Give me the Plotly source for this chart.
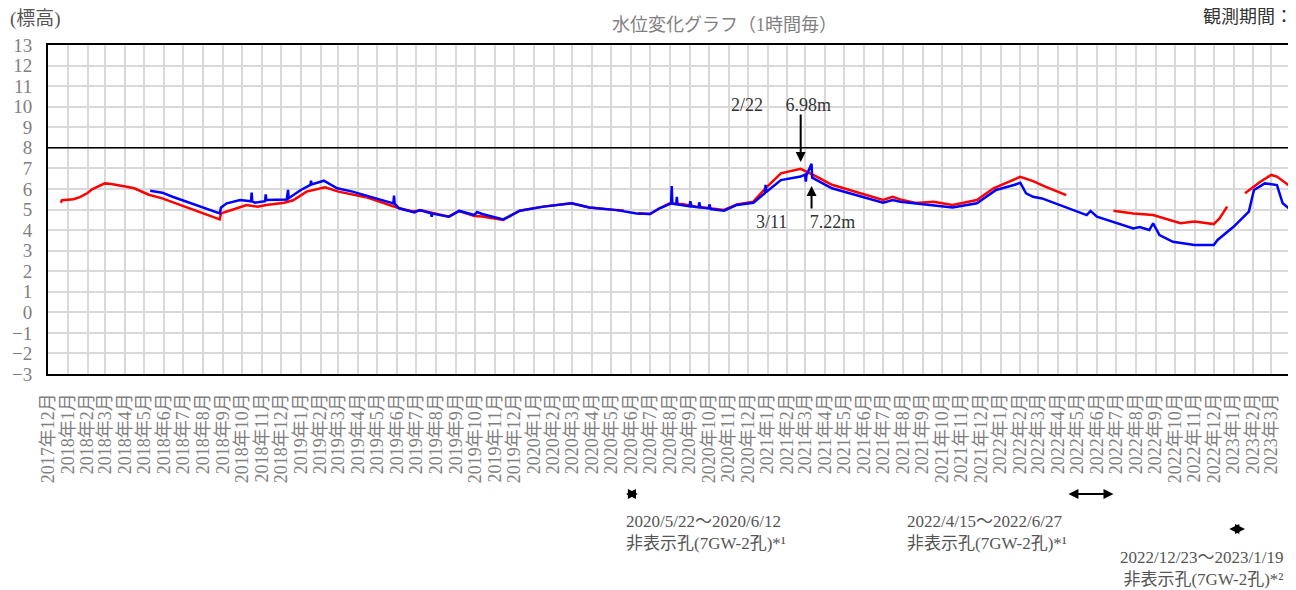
import pandas as pd
import plotly.graph_objects as go

# 観測孔ごとの水位（標高, m）
red_dates = [
    "2017-12-21", "2017-12-23", "2018-01-10", "2018-01-20", "2018-02-01", "2018-02-08",
    "2018-02-28", "2018-03-10", "2018-04-01", "2018-04-15", "2018-05-08", "2018-05-29",
    "2018-08-27", "2018-08-29", "2018-09-17", "2018-10-08", "2018-10-25", "2018-11-08",
    "2018-12-06", "2018-12-20", "2019-01-10", "2019-02-08", "2019-03-01", "2019-04-13",
    "2019-06-04", "2019-06-24", "2019-07-10", "2019-08-21", "2019-09-06", "2019-09-30",
    "2019-10-12", "2019-11-14", "2019-12-10", "2020-01-16", "2020-02-29", "2020-03-28",
    "2020-05-10", "2020-05-21", "2020-05-22",
    "2020-06-12", "2020-07-01", "2020-07-16", "2020-08-01", "2020-08-22", "2020-09-12",
    "2020-10-25", "2020-11-14", "2020-12-10", "2020-12-28", "2021-01-22", "2021-02-22",
    "2021-03-19", "2021-04-12", "2021-07-01", "2021-07-16", "2021-07-28", "2021-08-21",
    "2021-09-18", "2021-10-18", "2021-11-25", "2021-12-21", "2022-02-01", "2022-02-21",
    "2022-03-13", "2022-04-14", "2022-04-15",
    "2022-06-27", "2022-07-28", "2022-08-28", "2022-10-10", "2022-11-01", "2022-12-01",
    "2022-12-10", "2022-12-22", "2022-12-23",
    "2023-01-19", "2023-02-12", "2023-03-01", "2023-03-10", "2023-04-01",
]
red_vals = [
    5.33, 5.45, 5.50, 5.60, 5.80, 5.98,
    6.27, 6.24, 6.12, 6.03, 5.72, 5.54,
    4.52, 4.81, 5.00, 5.22, 5.14, 5.22,
    5.33, 5.45, 5.87, 6.08, 5.87, 5.60,
    5.06, 4.92, 4.95, 4.65, 4.93, 4.68,
    4.66, 4.49, 4.94, 5.14, 5.30, 5.10,
    4.97, 4.95, None,
    4.82, 4.78, 5.06, 5.30, 5.25, 5.14,
    4.98, 5.25, 5.38, 6.00, 6.76, 6.98,
    6.60, 6.20, 5.46, 5.62, 5.49, 5.32,
    5.38, 5.22, 5.46, 6.03, 6.59, 6.38,
    6.10, 5.70, None,
    4.94, 4.81, 4.73, 4.33, 4.41, 4.29,
    4.57, 5.14, None,
    5.79, 6.35, 6.68, 6.60, 6.10,
]

blue_dates = [
    "2018-05-10", "2018-05-29", "2018-06-14", "2018-08-27", "2018-08-29", "2018-09-07",
    "2018-09-28", "2018-10-15", "2018-10-16", "2018-10-17", "2018-10-21", "2018-11-06",
    "2018-11-07", "2018-11-08", "2018-12-10", "2018-12-12", "2018-12-13", "2019-01-01",
    "2019-01-16", "2019-01-17", "2019-01-18", "2019-02-06", "2019-02-27", "2019-03-23",
    "2019-05-26", "2019-05-27", "2019-05-28", "2019-06-04", "2019-06-28", "2019-07-06",
    "2019-07-24", "2019-07-25", "2019-07-26", "2019-08-21", "2019-09-06", "2019-09-30",
    "2019-10-04", "2019-10-12", "2019-11-14", "2019-12-10", "2020-01-16", "2020-02-29",
    "2020-03-28", "2020-05-10", "2020-06-10", "2020-07-01", "2020-07-16", "2020-08-01",
    "2020-08-03", "2020-08-04", "2020-08-05", "2020-08-11", "2020-08-12", "2020-08-13",
    "2020-08-22", "2020-09-01", "2020-09-02", "2020-09-04", "2020-09-15", "2020-09-16",
    "2020-09-18", "2020-10-01", "2020-10-02", "2020-10-04", "2020-10-25", "2020-11-14",
    "2020-12-10", "2020-12-28", "2020-12-29", "2020-12-30", "2021-01-22", "2021-02-22",
    "2021-03-01", "2021-03-02", "2021-03-03", "2021-03-11", "2021-03-12", "2021-03-19",
    "2021-04-12", "2021-07-01", "2021-07-16", "2021-07-28", "2021-09-18", "2021-10-18",
    "2021-11-25", "2021-12-25", "2022-01-22", "2022-02-01", "2022-02-10", "2022-02-21",
    "2022-03-07", "2022-05-16", "2022-05-22", "2022-06-01", "2022-07-28", "2022-08-07",
    "2022-08-22", "2022-08-28", "2022-09-07", "2022-09-28", "2022-11-01", "2022-12-01",
    "2022-12-07", "2023-01-01", "2023-01-25", "2023-02-02", "2023-02-19", "2023-03-10",
    "2023-03-19", "2023-04-01",
]
blue_vals = [
    5.91, 5.82, 5.62, 4.81, 5.10, 5.30,
    5.46, 5.40, 5.82, 5.40, 5.33, 5.40,
    5.74, 5.46, 5.49, 5.95, 5.55, 5.95,
    6.20, 6.40, 6.22, 6.40, 6.03, 5.87,
    5.30, 5.67, 5.28, 5.06, 4.86, 4.97,
    4.82, 4.65, 4.80, 4.65, 4.93, 4.73,
    4.88, 4.78, 4.52, 4.94, 5.14, 5.30,
    5.10, 4.97, 4.81, 4.78, 5.06, 5.30,
    5.30, 6.14, 5.28, 5.25, 5.62, 5.25,
    5.20, 5.15, 5.40, 5.15, 5.10, 5.35,
    5.10, 5.05, 5.25, 5.02, 4.94, 5.22,
    5.33, 5.80, 6.20, 5.85, 6.43, 6.60,
    6.70, 6.35, 6.65, 7.22, 6.55, 6.43,
    6.03, 5.33, 5.46, 5.38, 5.22, 5.10,
    5.30, 5.95, 6.19, 6.30, 5.79, 5.62,
    5.54, 4.73, 4.93, 4.65, 4.08, 4.15,
    4.00, 4.33, 3.76, 3.43, 3.27, 3.27,
    3.52, 4.16, 4.90, 5.95, 6.27, 6.19,
    5.30, 4.97,
]

# 月ごとの目盛
month_ticks = pd.date_range("2017-12-01", "2023-03-01", freq="MS")
month_labels = [f"{d.year}年{d.month}月" for d in month_ticks]

y_ticks = list(range(-3, 14))

FONT = "Liberation Serif, Noto Sans CJK JP, serif"
GRAY = "#7f7f7f"
DARK = "#333333"

# ページの余白(8px)を差し引いた図のサイズと描画領域
OFF = 8
FIG_W, FIG_H = 1296 - OFF, 590 - OFF
L, T, W, H = 48 - OFF, 45 - OFF, 1243, 329


def px_x(x):
    # 参照画像のピクセル位置 -> paper座標
    return (x - OFF - L) / W


def px_y(y):
    return (T + H - (y - OFF)) / H


fig = go.Figure()
fig.add_trace(go.Scatter(x=red_dates, y=red_vals, mode="lines",
                         line=dict(color="#ff0000", width=2.5), connectgaps=False))
fig.add_trace(go.Scatter(x=blue_dates, y=blue_vals, mode="lines",
                         line=dict(color="#0000ff", width=2.5), connectgaps=False))

# 基準線 8m
fig.add_shape(type="line", xref="paper", x0=0, x1=1, yref="y", y0=8, y1=8,
              line=dict(color="black", width=1.5))

# 最高水位の注記
fig.add_annotation(x="2021-02-22", y=7.31, ax=0, ay=-49, text="", showarrow=True,
                   arrowhead=2, arrowsize=1, arrowwidth=2, arrowcolor="black")
fig.add_annotation(x="2021-01-22", y=10.08, text="2/22　 6.98m", showarrow=False,
                   xanchor="center", yanchor="middle",
                   font=dict(family=FONT, size=18, color=DARK))
fig.add_annotation(x="2021-03-11", y=6.14, ax=0, ay=24, text="", showarrow=True,
                   arrowhead=2, arrowsize=1, arrowwidth=2, arrowcolor="black")
fig.add_annotation(x="2021-03-01", y=4.39, text="3/11　 7.22m", showarrow=False,
                   xanchor="center", yanchor="middle",
                   font=dict(family=FONT, size=18, color=DARK))

# 非表示期間
gaps = [("2020-05-22", "2020-06-12", px_y(494)),
        ("2022-04-15", "2022-06-27", px_y(494)),
        ("2022-12-23", "2023-01-19", px_y(529))]
for start, end, yp in gaps:
    fig.add_annotation(x=end, y=yp, xref="x", yref="paper", ax=start, ay=0,
                       axref="x", ayref="pixel", text="", showarrow=True,
                       arrowhead=2, arrowside="end+start", arrowsize=1,
                       arrowwidth=2, arrowcolor="black")

note_font = dict(family=FONT, size=17, color="#555555")
fig.add_annotation(x=px_x(624), y=px_y(532), xref="paper", yref="paper",
                   text="2020/5/22～2020/6/12<br>非表示孔(7GW-2孔)*¹", showarrow=False,
                   xanchor="left", yanchor="middle", align="left", font=note_font)
fig.add_annotation(x=px_x(905), y=px_y(532), xref="paper", yref="paper",
                   text="2022/4/15～2022/6/27<br>非表示孔(7GW-2孔)*¹", showarrow=False,
                   xanchor="left", yanchor="middle", align="left", font=note_font)
fig.add_annotation(x=px_x(1285), y=px_y(568), xref="paper", yref="paper",
                   text="2022/12/23～2023/1/19<br>非表示孔(7GW-2孔)*²", showarrow=False,
                   xanchor="right", yanchor="middle", align="right", font=note_font)

# 見出し
fig.add_annotation(x=px_x(724), y=px_y(25), xref="paper", yref="paper",
                   text="水位変化グラフ（1時間毎）", showarrow=False,
                   xanchor="center", yanchor="middle",
                   font=dict(family=FONT, size=18, color=GRAY))
fig.add_annotation(x=px_x(8), y=px_y(19), xref="paper", yref="paper",
                   text="(標高)", showarrow=False, xanchor="left", yanchor="middle",
                   font=dict(family=FONT, size=19, color="#555555"))
fig.add_annotation(x=px_x(1295), y=px_y(17), xref="paper", yref="paper",
                   text="観測期間：", showarrow=False, xanchor="right", yanchor="middle",
                   font=dict(family=FONT, size=18, color=DARK))

fig.update_xaxes(type="date", range=["2017-12-01", "2023-04-01"],
                 tickvals=month_ticks, ticktext=month_labels, tickangle=-90,
                 tickfont=dict(family=FONT, size=18, color=GRAY), ticks="",
                 ticklabelstandoff=10, automargin=False,
                 showgrid=True, gridcolor="#d9d9d9", gridwidth=2,
                 showline=True, mirror=True, linecolor="black", linewidth=2,
                 zeroline=False)
fig.update_yaxes(range=[-3, 13], tickvals=y_ticks,
                 tickfont=dict(family=FONT, size=19, color=GRAY), ticks="",
                 ticklabelstandoff=10, automargin=False,
                 showgrid=True, gridcolor="#d9d9d9", gridwidth=2,
                 showline=True, mirror=True, linecolor="black", linewidth=2,
                 zeroline=False)

fig.update_layout(width=FIG_W, height=FIG_H,
                  margin=dict(l=L, r=FIG_W - L - W, t=T, b=FIG_H - T - H),
                  plot_bgcolor="white", paper_bgcolor="white", showlegend=False,
                  font=dict(family=FONT, color=GRAY))

fig.write_html("out.html")
